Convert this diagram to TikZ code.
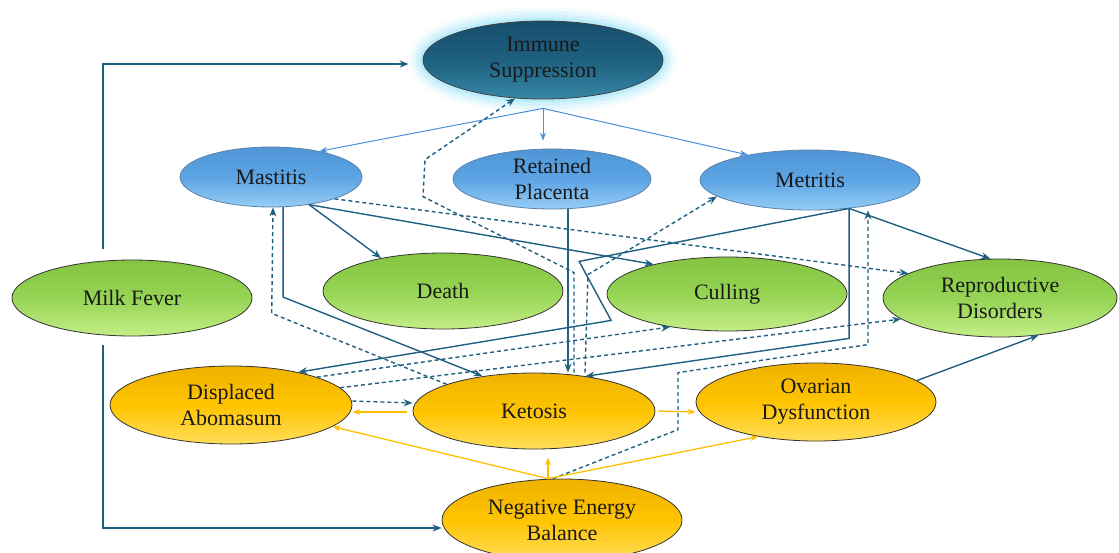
\documentclass[tikz,border=0pt]{standalone}
\usepackage{fontspec}
\setmainfont{Liberation Serif}
\usetikzlibrary{arrows.meta,shapes.geometric}
\definecolor{linkteal}{RGB}{31,95,128}
\definecolor{skyline}{RGB}{74,144,217}
\definecolor{feedgold}{RGB}{255,190,0}
\definecolor{glowcyan}{RGB}{110,215,245}
\definecolor{immTop}{RGB}{22,78,108}
\definecolor{immMid}{RGB}{30,96,128}
\definecolor{immBot}{RGB}{55,135,165}
\definecolor{skyTop}{RGB}{80,150,215}
\definecolor{skyMid}{RGB}{92,164,228}
\definecolor{skyBot}{RGB}{150,205,245}
\definecolor{skyEdge}{RGB}{90,130,170}
\definecolor{fateTop}{RGB}{132,196,66}
\definecolor{fateMid}{RGB}{150,212,84}
\definecolor{fateBot}{RGB}{196,238,135}
\definecolor{metabTop}{RGB}{238,178,0}
\definecolor{metabMid}{RGB}{255,196,0}
\definecolor{metabBot}{RGB}{255,222,90}

\begin{document}
\begin{tikzpicture}[
  x=1pt, y=-1pt,
  font=\fontsize{22}{26}\selectfont,
  oval/.style={ellipse, inner sep=0pt, align=center, text=black!90, line width=0.8pt},
  immune/.style={oval, draw=black!75, top color=immTop, bottom color=immBot, middle color=immMid,
                 preaction={draw=glowcyan, line width=28pt, draw opacity=0.08},
                 preaction={draw=glowcyan, line width=21pt, draw opacity=0.1},
                 preaction={draw=glowcyan, line width=14pt, draw opacity=0.16},
                 preaction={draw=glowcyan, line width=7pt, draw opacity=0.25}},
  sick/.style={oval, draw=skyEdge, top color=skyTop, bottom color=skyBot, middle color=skyMid},
  fate/.style={oval, draw=black!80, top color=fateTop, bottom color=fateBot, middle color=fateMid},
  metab/.style={oval, draw=black!80, top color=metabTop, bottom color=metabBot, middle color=metabMid},
  link/.style={draw=linkteal, line width=1.4pt, -{Stealth[length=9pt,width=7pt]}},
  dlink/.style={link, dash pattern=on 4pt off 3pt},
  sky/.style={draw=skyline, line width=1pt, -{Stealth[length=8pt,width=6pt]}},
  feed/.style={draw=feedgold, line width=1.3pt, -{Stealth[length=8pt,width=6pt]}}
]
\useasboundingbox (0,0) rectangle (1119,552);

\node[immune, minimum width=240pt, minimum height=78pt] (imm) at (543,60) {Immune\\Suppression};
\node[sick, minimum width=182pt, minimum height=60pt] (mast) at (271,177) {Mastitis};
\node[sick, minimum width=198pt, minimum height=60pt] (plac) at (552,179) {Retained\\Placenta};
\node[sick, minimum width=220pt, minimum height=60pt] (metr) at (810,180) {Metritis};
\node[fate, minimum width=240pt, minimum height=76pt] (milk) at (132,298) {Milk Fever};
\node[fate, minimum width=240pt, minimum height=76pt] (death) at (443,291) {Death};
\node[fate, minimum width=240pt, minimum height=74pt] (cull) at (727,294) {Culling};
\node[fate, minimum width=234pt, minimum height=78pt] (repro) at (1000,298) {Reproductive\\Disorders};
\node[metab, minimum width=242pt, minimum height=78pt] (disp) at (231,405) {Displaced\\Abomasum};
\node[metab, minimum width=242pt, minimum height=76pt] (keto) at (534,411) {Ketosis};
\node[metab, minimum width=240pt, minimum height=78pt] (ovar) at (816,402) {Ovarian\\Dysfunction};
\node[metab, minimum width=240pt, minimum height=82pt] (neb) at (562,520) {Negative Energy\\Balance};

\coordinate (immfoot) at ([yshift=-9pt]imm.south);
\draw[sky] (immfoot) -- (mast.28);
\draw[sky, shorten >=8pt] (immfoot) -- (immfoot |- plac.north);
\draw[sky] (immfoot) -- (metr.158);

\draw[link, line width=2pt] ([xshift=-29pt,yshift=11pt]milk.north) |- ([xshift=-14pt,yshift=-4pt]imm.west);
\draw[link, line width=2pt] ([xshift=-29pt,yshift=-9pt]milk.south) |- ([yshift=-8pt]neb.west);

\draw[link] (mast.-36) -- (death.152);
\draw[link] (mast.-36) -- (cull.158);
\draw[link] (mast.-68) -- ++(0,90) -- (keto.146);
\draw[link] ([xshift=16pt]plac.south) -- ([xshift=34pt]keto.north);
\draw[link] (metr.-36) -- ++(-270,53) -- ++(32,59) -- (disp.26);
\draw[link] (metr.-36) -- ++(0,130) -- (keto.34);
\draw[link] (metr.-36) -- (repro.104);
\draw[link] (ovar.12) -- (repro.-44);

\draw[dlink] ([xshift=40pt]keto.north) -- ++(0,-100) -- ++(-151,-76) -- ++(2,-37) -- (imm.-126);
\draw[dlink] ([xshift=51pt]keto.north) -- ++(3,-98) -- (metr.-170);
\draw[dlink] (mast.-19) -- (repro.165);
\draw[dlink] (keto.163) -- ++(-175,-71) -- ([xshift=2pt]mast.south);
\draw[dlink] (disp.18) -- (cull.-150);
\draw[dlink] (disp.9) -- (repro.-168);
\draw[dlink] ([xshift=-9pt]neb.north) -- ++(125,-49) -- ++(0,-57) -- ++(190,-28) -- ([xshift=58pt]metr.south);
\draw[dlink] ([yshift=4pt]disp.east) -- ([yshift=8pt]keto.west);

\coordinate (nebtop) at ([xshift=-14pt]neb.north);
\draw[feed] (nebtop) -- (disp.-12);
\draw[feed] (nebtop) -- ([xshift=14pt,yshift=-8pt]keto.south);
\draw[feed] (nebtop) -- (ovar.-149);
\draw[feed, shorten <=6pt] ([yshift=-1pt]keto.west) -- ([yshift=-7pt]disp.east);
\draw[feed] ([xshift=3pt]keto.east) -- ([yshift=-10pt]ovar.west);
\end{tikzpicture}
\end{document}
